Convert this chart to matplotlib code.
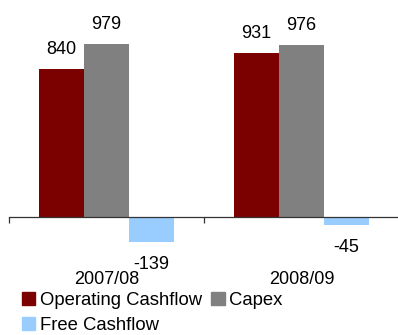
import numpy as np
import matplotlib
matplotlib.use("Agg")
import matplotlib.pyplot as plt
from matplotlib.patches import Patch

plt.rcParams['font.family'] = ['Liberation Sans', 'DejaVu Sans']

# Cashflow figures per fiscal year
years = ["2007/08", "2008/09"]
operating_cashflow = [840, 931]
capex = [979, 976]
free_cashflow = [-139, -45]

series_names = ["Operating Cashflow", "Capex", "Free Cashflow"]
series_colors = ["#7B0000", "#808080", "#99CCFF"]

fig = plt.figure(figsize=(3.98, 3.35), dpi=100)
ax = fig.add_axes([9 / 398, 0.194, 390 / 398, 0.7806])

x = np.arange(len(years))
width = 0.23
offsets = [-width, 0.0, width]
all_values = [operating_cashflow, capex, free_cashflow]

for vals, off, color, name in zip(all_values, offsets, series_colors, series_names):
    b = ax.bar(x + off, vals, width, color=color, label=name, linewidth=0)
    for rect, v in zip(b, vals):
        cx = rect.get_x() + rect.get_width() / 2
        if v >= 0:
            ax.annotate(f"{v}", (cx, v), xytext=(0, 10.8), textcoords="offset points",
                        ha="center", va="baseline", fontsize=13)
        else:
            ax.annotate(f"{v}", (cx, v), xytext=(0, -19.4), textcoords="offset points",
                        ha="center", va="baseline", fontsize=13)

ax.set_xlim(-0.5, 1.5)
ax.set_ylim(-300, 1180)

for side in ["left", "right", "top"]:
    ax.spines[side].set_visible(False)
ax.spines["bottom"].set_position(("data", 0))
ax.spines["bottom"].set_color("#333333")
ax.spines["bottom"].set_linewidth(0.9)
ax.set_yticks([])

ax.set_xticks(x)
ax.set_xticklabels(years, fontsize=13)
ax.tick_params(axis="x", which="major", length=0, pad=39)
ax.set_xticks([-0.5, 0.5, 1.5], minor=True)
ax.tick_params(axis="x", which="minor", length=4, width=0.9, color="#333333", direction="out")

handles = [Patch(color=series_colors[0]), Patch(color=series_colors[2]), Patch(color=series_colors[1])]
labels = [series_names[0], series_names[2], series_names[1]]
fig.legend(handles, labels, ncol=2, loc="upper left",
           bbox_to_anchor=(22 / 398, 1 - 292 / 335), frameon=False, fontsize=13.3,
           handlelength=0.72, handleheight=0.72, handletextpad=0.25,
           columnspacing=0.5, labelspacing=0.42, borderpad=0, borderaxespad=0)

fig.savefig("out.png", dpi=100)
